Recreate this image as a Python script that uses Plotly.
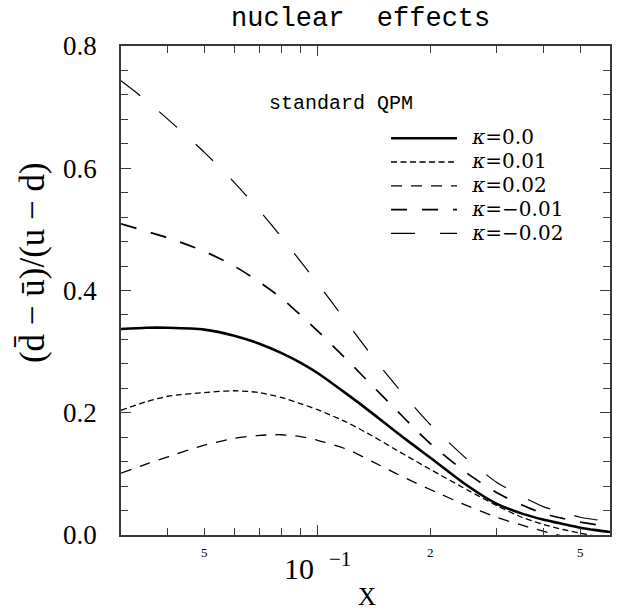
import plotly.graph_objects as go
import numpy as np

# ---- data ----
x_vals = [0.03, 0.035, 0.04, 0.05, 0.06, 0.07, 0.08, 0.09, 0.1, 0.12, 0.14, 0.16,
          0.18, 0.2, 0.25, 0.3, 0.35, 0.4, 0.45, 0.5, 0.55, 0.6]

k_0p00 = [0.337, 0.339, 0.339, 0.336, 0.326, 0.313, 0.298, 0.282, 0.265, 0.230, 0.199, 0.171,
          0.147, 0.126, 0.081, 0.051, 0.035, 0.025, 0.018, 0.012, 0.008, 0.005]
k_0p01 = [0.204, 0.218, 0.227, 0.233, 0.236, 0.233, 0.225, 0.215, 0.205, 0.184, 0.162, 0.141,
          0.123, 0.107, 0.074, 0.048, 0.029, 0.017, 0.009, 0.003, -0.002, -0.006]
k_0p02 = [0.101, 0.116, 0.128, 0.147, 0.158, 0.163, 0.164, 0.161, 0.155, 0.140, 0.120, 0.102,
          0.087, 0.074, 0.048, 0.029, 0.016, 0.006, -0.002, -0.008, -0.012, -0.014]
k_m0p01 = [0.509, 0.497, 0.486, 0.464, 0.440, 0.414, 0.388, 0.360, 0.334, 0.286, 0.244, 0.208,
           0.176, 0.149, 0.101, 0.069, 0.049, 0.035, 0.027, 0.021, 0.017, 0.014]
k_m0p02 = [0.743, 0.711, 0.680, 0.626, 0.577, 0.531, 0.488, 0.448, 0.412, 0.347, 0.292, 0.248,
           0.211, 0.180, 0.124, 0.086, 0.063, 0.046, 0.037, 0.029, 0.025, 0.022]

series_names = ["<i>κ</i>=0.0", "<i>κ</i>=0.01", "<i>κ</i>=0.02", "<i>κ</i>=−0.01", "<i>κ</i>=−0.02"]
series_vals = [k_0p00, k_0p01, k_0p02, k_m0p01, k_m0p02]

x_tick_major = [0.1]
x_tick_minor = [0.04, 0.05, 0.06, 0.07, 0.08, 0.09, 0.2, 0.3, 0.4, 0.5, 0.6]
x_label_vals = [0.05, 0.1, 0.2, 0.5]
x_label_text = ["5", "10  <sup>−1</sup>", "2", "5"]

# ---- styles ----
styles = [
    dict(width=2.6, dash="solid"),
    dict(width=1.3, dash="6px,3.5px"),
    dict(width=1.3, dash="11px,9px"),
    dict(width=1.7, dash="16px,15px"),
    dict(width=1.2, dash="24px,25px"),
]

SERIF = "Liberation Serif, Times New Roman, serif"
WIDE_SERIF = "DejaVu Serif, serif"

fig = go.Figure()
for name, vals, st in zip(series_names, series_vals, styles):
    fig.add_trace(go.Scatter(
        x=x_vals, y=vals, mode="lines",
        name="\u00a0\u00a0<span style='font-size:20px'>" + name + "</span>",
        line=dict(color="black", width=st["width"], dash=st["dash"], shape="spline", smoothing=0.7),
    ))

axis_color = "#3a3a3a"
fig.update_layout(
    width=625, height=612,
    margin=dict(l=121, r=15, t=46, b=77),
    paper_bgcolor="white", plot_bgcolor="white",
    showlegend=True,
    legend=dict(x=0.542, y=0.846, xanchor="left", yanchor="top",
                bgcolor="rgba(0,0,0,0)", font=dict(family=WIDE_SERIF, size=16, color="black"),
                itemwidth=66, tracegroupgap=0),
    xaxis=dict(
        type="log", range=[np.log10(0.03), np.log10(0.6)],
        showgrid=False, zeroline=False,
        showline=True, linecolor=axis_color, linewidth=1.6, mirror="ticks",
        ticks="inside", tickvals=x_tick_major, ticklen=10, tickwidth=1.3, tickcolor=axis_color,
        showticklabels=False,
        minor=dict(tickvals=x_tick_minor, ticks="inside", ticklen=7, tickwidth=1.2, tickcolor=axis_color),
    ),
    yaxis=dict(
        range=[0, 0.8], showgrid=False, zeroline=False,
        showline=True, linecolor=axis_color, linewidth=1.6, mirror="ticks",
        ticks="inside", dtick=0.2, tick0=0, ticklen=10, tickwidth=1.3, tickcolor=axis_color,
        tickformat=".1f", tickfont=dict(family=SERIF, size=27, color="black"),
        ticklabelstandoff=17,
        minor=dict(dtick=0.04, ticks="inside", ticklen=7, tickwidth=1.2, tickcolor=axis_color),
    ),
)

# x tick labels
for xv, txt in zip(x_label_vals, x_label_text):
    big = "10" in txt
    fig.add_annotation(
        x=np.log10(xv), xref="x", y=-0.064 if big else -0.035, yref="paper",
        text=txt, showarrow=False, xanchor="center", yanchor="middle",
        font=dict(family=SERIF, size=30 if big else 13, color="black"),
    )

# axis titles and plot title
fig.add_annotation(x=0.503, xref="paper", y=-0.126, yref="paper", text="X", showarrow=False,
                   font=dict(family=SERIF, size=25, color="black"), yanchor="middle")
fig.add_annotation(x=-0.182, xref="paper", y=0.556, yref="paper", text="(d̄ − ū)/(u − d)",
                   showarrow=False, textangle=-90,
                   font=dict(family=SERIF, size=35, color="black"), xanchor="center", yanchor="middle")
fig.add_annotation(x=0.489, xref="paper", y=1.055, yref="paper", text="nuclear  effects",
                   showarrow=False, font=dict(family="Liberation Mono, monospace", size=27, color="black"),
                   yanchor="middle")
fig.add_annotation(x=np.log10(0.1156), xref="x", y=0.706, yref="y", text="standard QPM",
                   showarrow=False, font=dict(family="Liberation Mono, monospace", size=20, color="black"))

fig.write_html("out.html")
